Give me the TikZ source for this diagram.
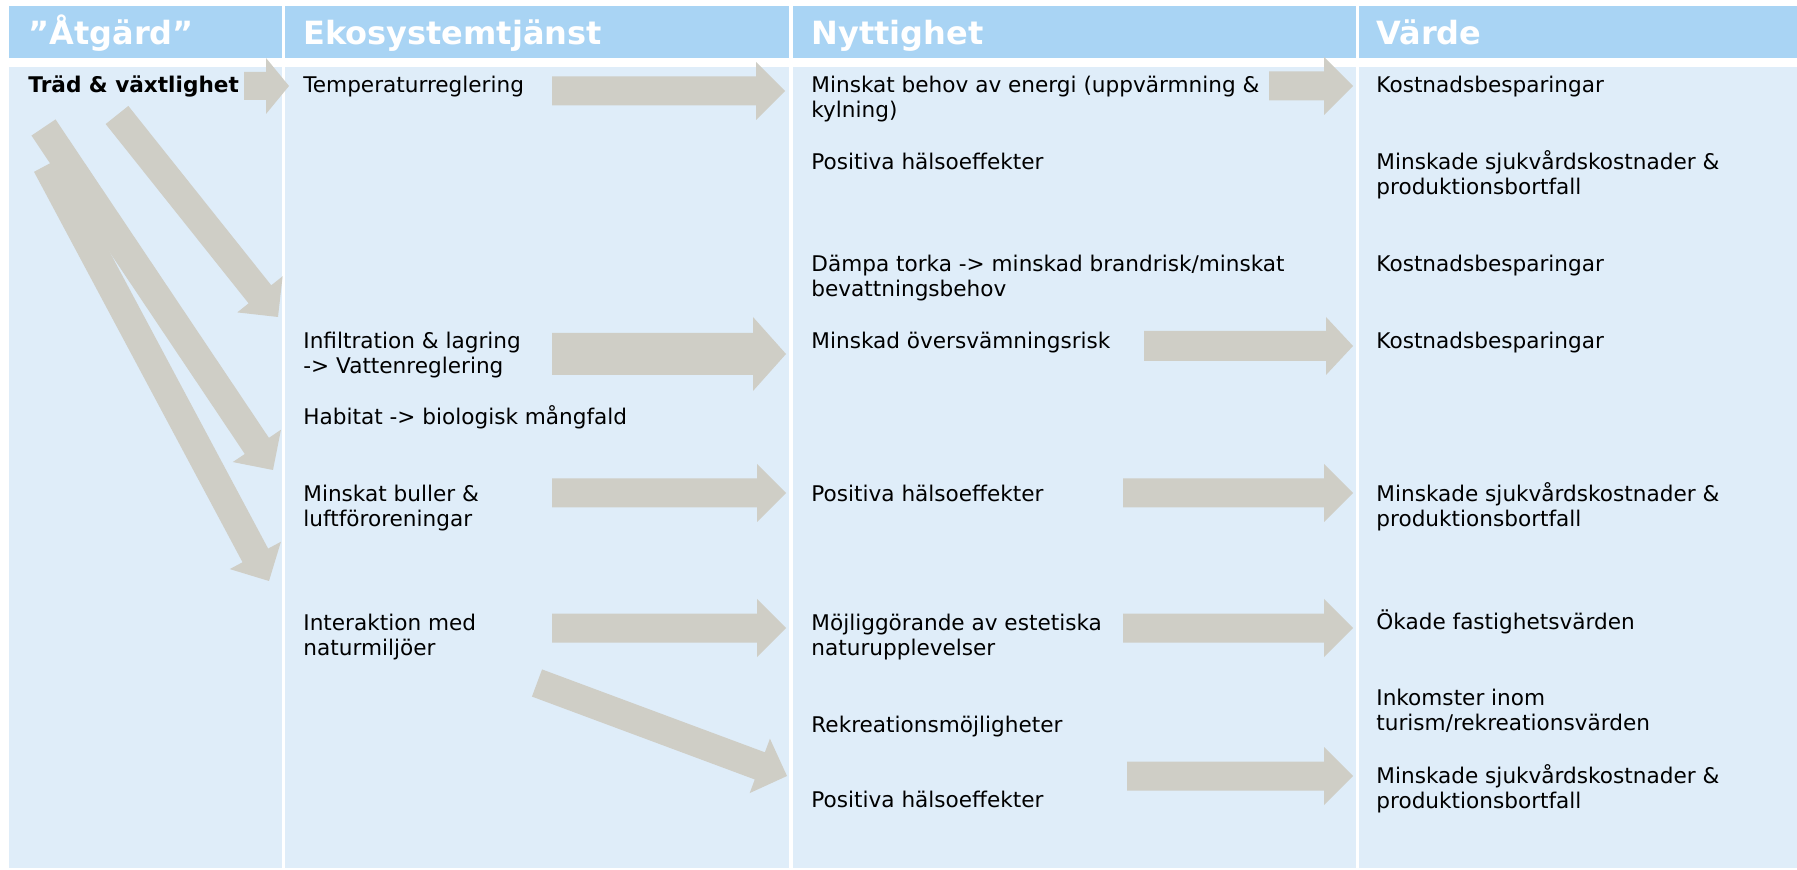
\documentclass[tikz,border=0pt]{standalone}
\usepackage{fontspec}
\setmainfont{DejaVu Sans}
\usetikzlibrary{calc}
\definecolor{hdrblue}{RGB}{169,212,244}
\definecolor{bodyblue}{RGB}{223,237,249}
\definecolor{arrowgray}{RGB}{207,206,198}
% #1 tail, #2 tip, #3 half shaft width, #4 half head width, #5 head length
\newcommand\blockarrow[5]{%
  \path ($(#2)!#5!(#1)$) coordinate (ba-h);
  \fill[arrowgray] ($(#1)!#3!90:(#2)$) -- ($(ba-h)!#3!-90:(#1)$) -- ($(ba-h)!#4!-90:(#1)$) -- (#2)
    -- ($(ba-h)!#4!90:(#1)$) -- ($(ba-h)!#3!90:(#1)$) -- ($(#1)!#3!-90:(#2)$) -- cycle;
}
\tikzset{
  hdrcell/.style={fill=hdrblue, draw=none},
  bodycell/.style={fill=bodyblue, draw=none},
  hdr/.style={anchor=base west, inner sep=0pt, text=white, font=\fontsize{16pt}{19pt}\selectfont\bfseries},
  body/.style={anchor=base west, inner sep=0pt, align=left, text=black, font=\fontsize{10.8pt}{12.5pt}\selectfont},
}
\begin{document}
\begin{tikzpicture}[x=0.5pt,y=-0.5pt]
\useasboundingbox[fill=white] (0,0) rectangle (1797,870);
% columns
\fill[hdrcell] (9,6) rectangle (282,58);
\fill[hdrcell] (285,6) rectangle (789,58);
\fill[hdrcell] (793,6) rectangle (1356,58);
\fill[hdrcell] (1359,6) rectangle (1797,58);
\fill[bodycell] (9,67) rectangle (282,868);
\fill[bodycell] (285,67) rectangle (789,868);
\fill[bodycell] (793,67) rectangle (1356,868);
\fill[bodycell] (1359,67) rectangle (1797,868);
% headers
\node[hdr] (h1) at (28,45) {”Åtgärd”};
\node[hdr] (h2) at (303,45) {Ekosystemtjänst};
\node[hdr] (h3) at (811,45) {Nyttighet};
\node[hdr] (h4) at (1376,45) {Värde};
% (two-line nodes are placed at the baseline of their last line)
% column 1
\node[body, font=\fontsize{10.8pt}{12.5pt}\selectfont\bfseries] (trad) at (28,93) {Träd \& växtlighet};
% column 2
\node[body] (temp) at (303,93) {Temperaturreglering};
\node[body] (infil) at (303,374) {Infiltration \& lagring\\-> Vattenreglering};
\node[body] (habitat) at (303,425) {Habitat -> biologisk mångfald};
\node[body] (buller) at (303,527) {Minskat buller \&\\luftföroreningar};
\node[body] (inter) at (303,655) {Interaktion med\\naturmiljöer};
% column 3
\node[body] (energi) at (811,118) {Minskat behov av energi (uppvärmning \&\\kylning)};
\node[body] (halsa1) at (811,170) {Positiva hälsoeffekter};
\node[body] (torka) at (811,297) {Dämpa torka -> minskad brandrisk/minskat\\bevattningsbehov};
\node[body] (oversv) at (811,349) {Minskad översvämningsrisk};
\node[body] (halsa2) at (811,502) {Positiva hälsoeffekter};
\node[body] (estet) at (811,655) {Möjliggörande av estetiska\\naturupplevelser};
\node[body] (rekr) at (811,732) {Rekreationsmöjligheter};
\node[body] (halsa3) at (811,807) {Positiva hälsoeffekter};
% column 4
\node[body] (kost1) at (1376,93) {Kostnadsbesparingar};
\node[body] (sjuk1) at (1376,195) {Minskade sjukvårdskostnader \&\\produktionsbortfall};
\node[body] (kost2) at (1376,272) {Kostnadsbesparingar};
\node[body] (kost3) at (1376,349) {Kostnadsbesparingar};
\node[body] (sjuk2) at (1376,527) {Minskade sjukvårdskostnader \&\\produktionsbortfall};
\node[body] (fast) at (1376,630) {Ökade fastighetsvärden};
\node[body] (inkomst) at (1376,730) {Inkomster inom\\turism/rekreationsvärden};
\node[body] (sjuk3) at (1376,808) {Minskade sjukvårdskostnader \&\\produktionsbortfall};
% arrow end points
\coordinate (s0a) at (244,86);   \coordinate (s0b) at (289,86);
\coordinate (a1a) at (552,91);   \coordinate (a1b) at (785,91);
\coordinate (a2a) at (1269,86);  \coordinate (a2b) at (1353,86);
\coordinate (a3a) at (552,354);  \coordinate (a3b) at (786,354);
\coordinate (a4a) at (1144,346); \coordinate (a4b) at (1353,346);
\coordinate (a5a) at (552,493);  \coordinate (a5b) at (786,493);
\coordinate (a6a) at (1123,493); \coordinate (a6b) at (1353,493);
\coordinate (a7a) at (552,628);  \coordinate (a7b) at (786,628);
\coordinate (a8a) at (1123,628); \coordinate (a8b) at (1353,628);
\coordinate (a9a) at (537,683);  \coordinate (a9b) at (787,776);
\coordinate (a10a) at (1127,776);\coordinate (a10b) at (1353,776);
\coordinate (d1a) at (117,115);  \coordinate (d1b) at (278,317);
\coordinate (d2a) at (43.5,127.5); \coordinate (d2b) at (273,470);
\coordinate (d3a) at (46.8,165); \coordinate (d3b) at (269,581);
% arrows
\blockarrow{s0a}{s0b}{7pt}{14pt}{11.5pt}
\blockarrow{a1a}{a1b}{7.25pt}{14.5pt}{14.5pt}
\blockarrow{a2a}{a2b}{7.25pt}{14.5pt}{14.5pt}
\blockarrow{a3a}{a3b}{10.5pt}{18.5pt}{16.5pt}
\blockarrow{a4a}{a4b}{7.5pt}{14.5pt}{13.5pt}
\blockarrow{a5a}{a5b}{7.25pt}{14.5pt}{14.5pt}
\blockarrow{a6a}{a6b}{7.25pt}{14.5pt}{14.5pt}
\blockarrow{a7a}{a7b}{7.25pt}{14.5pt}{14.5pt}
\blockarrow{a8a}{a8b}{7.25pt}{14.5pt}{14.5pt}
\blockarrow{a9a}{a9b}{7.25pt}{14.5pt}{14.5pt}
\blockarrow{a10a}{a10b}{7.25pt}{14.5pt}{14.5pt}
\blockarrow{d3a}{d3b}{7.25pt}{14.5pt}{14.5pt}
\blockarrow{d2a}{d2b}{7.25pt}{14.5pt}{14.5pt}
\blockarrow{d1a}{d1b}{7.25pt}{14.5pt}{14.5pt}
\end{tikzpicture}
\end{document}
